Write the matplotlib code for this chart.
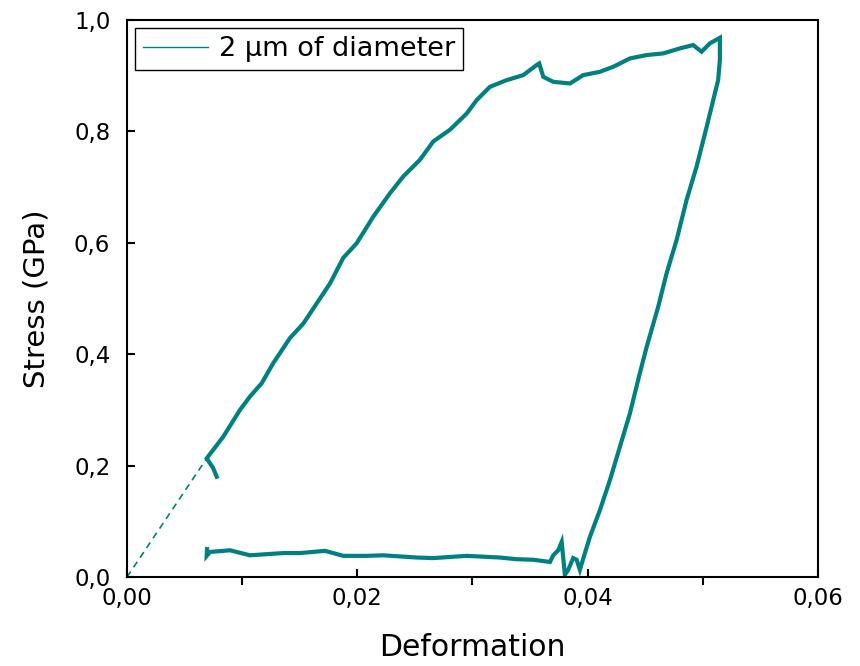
import matplotlib.pyplot as plt
from matplotlib.lines import Line2D
from matplotlib.ticker import FuncFormatter, MultipleLocator

# ===================== Data =====================
# elastic fit (dashed)
fit_x = [0.0, 0.00692]
fit_y = [0.0, 0.213]

# measured curve: loading, unloading, then back along the bottom
strain = [0.00779, 0.00747, 0.00692, 0.00836, 0.00981, 0.01068, 0.01170, 0.01270,
          0.01415, 0.01531, 0.01647, 0.01763, 0.01878, 0.01994, 0.02139, 0.02284,
          0.02399, 0.02544, 0.02660, 0.02805, 0.02950, 0.03036, 0.03152, 0.03297,
          0.03441, 0.03557, 0.03580, 0.03615, 0.03702, 0.03847, 0.03962, 0.04107,
          0.04223, 0.04368, 0.04513, 0.04657, 0.04802, 0.04917, 0.04990, 0.05062,
          0.05149,
          0.05149, 0.05134, 0.05091, 0.05034, 0.04947, 0.04860, 0.04773, 0.04686,
          0.04613, 0.04513, 0.04454, 0.04368, 0.04281, 0.04194, 0.04107, 0.04020,
          0.03977, 0.03933, 0.03905, 0.03875, 0.03832, 0.03803,
          0.03775, 0.03745, 0.03702, 0.03673, 0.03528, 0.03384, 0.03239, 0.02950,
          0.02660, 0.02515, 0.02225, 0.02081, 0.01878, 0.01719, 0.01502, 0.01357,
          0.01068, 0.00894, 0.00721, 0.00692, 0.00695]
stress = [0.180, 0.196, 0.213, 0.252, 0.300, 0.324, 0.348, 0.384,
          0.429, 0.455, 0.491, 0.527, 0.573, 0.599, 0.647, 0.689,
          0.719, 0.749, 0.782, 0.803, 0.832, 0.856, 0.880, 0.892,
          0.901, 0.919, 0.922, 0.898, 0.889, 0.886, 0.901, 0.907,
          0.916, 0.931, 0.937, 0.940, 0.949, 0.955, 0.943, 0.958,
          0.968,
          0.928, 0.892, 0.856, 0.808, 0.737, 0.677, 0.605, 0.545,
          0.485, 0.413, 0.366, 0.294, 0.234, 0.174, 0.120, 0.072,
          0.043, 0.013, 0.031, 0.034, 0.013, 0.004,
          0.063, 0.048, 0.039, 0.027, 0.031, 0.032, 0.035, 0.038,
          0.034, 0.035, 0.039, 0.038, 0.038, 0.047, 0.043, 0.043,
          0.039, 0.048, 0.045, 0.038, 0.050]

label = "2 µm of diameter"
color = "#008080"

# ===================== Plot =====================
plt.rcParams['font.family'] = ['DejaVu Sans']

fig = plt.figure(figsize=(8.6, 6.66), dpi=100)
ax = fig.add_axes([0.1477, 0.1336, 0.8033, 0.8364])

ax.plot(fit_x, fit_y, color=color, lw=1.2, linestyle=(0, (4, 3)))
ax.plot(strain, stress, color=color, lw=3.0, solid_joinstyle='miter')

ax.set_xlim(0, 0.06)
ax.set_ylim(0, 1.0)

ax.xaxis.set_major_locator(MultipleLocator(0.02))
ax.xaxis.set_minor_locator(MultipleLocator(0.01))
ax.yaxis.set_major_locator(MultipleLocator(0.2))
ax.xaxis.set_major_formatter(FuncFormatter(lambda v, p: f"{v:.2f}".replace(".", ",")))
ax.yaxis.set_major_formatter(FuncFormatter(lambda v, p: f"{v:.1f}".replace(".", ",")))

ax.tick_params(which='major', direction='in', length=6, width=1.5, labelsize=16.5)
ax.tick_params(axis='y', pad=12)
ax.tick_params(axis='x', pad=7)
ax.tick_params(axis='x', which='minor', direction='out', length=6, width=1.5)
ax.tick_params(top=False, right=False)
for s in ax.spines.values():
    s.set_linewidth(1.5)

ax.set_xlabel("Deformation", fontsize=21.5, labelpad=17)
ax.set_ylabel("Stress (GPa)", fontsize=21, labelpad=17)

handle = Line2D([0], [0], color=color, lw=1.0)
leg = ax.legend([handle], [label], loc='upper left', fontsize=19.5,
                frameon=True, fancybox=False, edgecolor='black', framealpha=1,
                borderaxespad=0.3, handlelength=2.4, handletextpad=0.4,
                borderpad=0.3)
leg.get_frame().set_linewidth(1.0)

fig.savefig("out.png", dpi=100)
